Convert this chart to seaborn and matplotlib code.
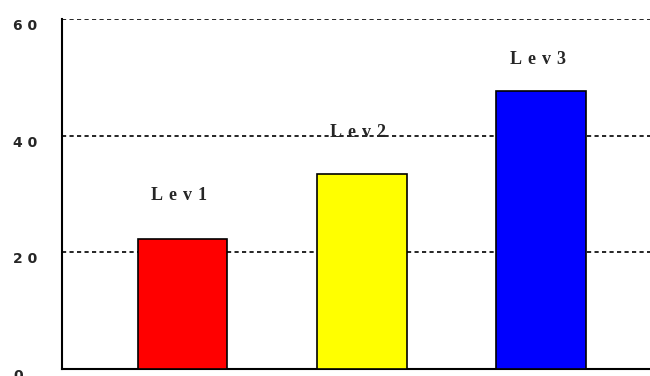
import matplotlib
matplotlib.use("Agg")
import matplotlib.pyplot as plt
import seaborn as sns
import pandas as pd

categories = ["Lev1", "Lev2", "Lev3"]
values = [22.2, 33.5, 47.7]
label_heights = [29.7, 40.5, 53.0]
bar_colors = ["#ff0000", "#ffff00", "#0000ff"]
y_ticks = [0, 20, 40, 60]
y_tick_labels = ["0", "2 0", "4 0", "6 0"]

sns.set_theme(style="white")
plt.rcParams["font.family"] = ["DejaVu Sans"]

df = pd.DataFrame({"level": categories, "value": values})

fig = plt.figure(figsize=(6.5, 3.76), dpi=100)
ax = fig.add_axes([0.0954, 0.0186, 0.9046, 0.9309])

sns.barplot(data=df, x="level", y="value", hue="level", palette=bar_colors,
            saturation=1, width=0.5, edgecolor="black", linewidth=1.2,
            legend=False, ax=ax, zorder=3)

ax.set_ylim(0, 60)
ax.set_xlim(-0.671, 2.607)
ax.set_yticks(y_ticks)
ax.set_yticklabels(y_tick_labels, fontsize=10, fontweight="bold")
ax.tick_params(axis="y", length=0, pad=35)
for t in ax.get_yticklabels():
    t.set_horizontalalignment("left")
    t.set_verticalalignment("top")
ax.set_xticks([])
ax.set_xlabel("")
ax.set_ylabel("")

for y in [20, 40, 60]:
    ax.axhline(y, color="black", linewidth=1.2, linestyle=(0, (2.5, 2.0)), zorder=1)

for side in ["top", "right"]:
    ax.spines[side].set_visible(False)
for side in ["left", "bottom"]:
    ax.spines[side].set_color("black")
    ax.spines[side].set_linewidth(1.5)

for i, (name, h) in enumerate(zip(categories, label_heights)):
    ax.text(i - 0.02, h, "\u2004".join(name), ha="center", va="center", fontsize=13,
            fontweight="bold", family=["Liberation Serif", "DejaVu Serif"], zorder=4)

fig.savefig("out.png", dpi=100)
